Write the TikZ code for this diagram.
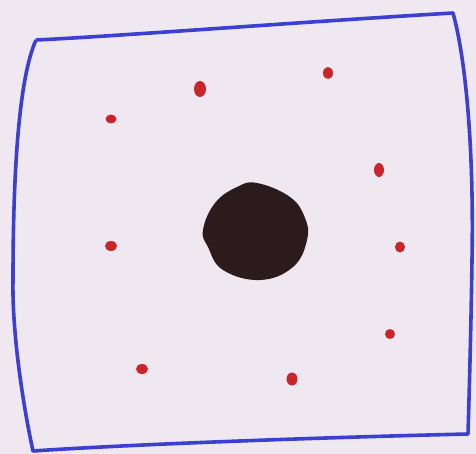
\documentclass[tikz,border=0pt]{standalone}
\usepackage{tikz}

\definecolor{paper}{HTML}{EFE8F0}
\definecolor{penblue}{HTML}{3B3FD2}
\definecolor{penred}{HTML}{C9262C}
\definecolor{blob}{HTML}{2B1B1D}

\begin{document}
\begin{tikzpicture}[x=1pt, y=-1pt]
	\fill [paper] (0, 0) rectangle (476, 454);
	\useasboundingbox (0, 0) rectangle (476, 454);
	% frame
	\draw [penblue, line width=3.6pt, line join=round]
		(36, 40) .. controls (120, 36) and (300, 22) .. (453, 13)
		.. controls (466, 60) and (474, 150) .. (472, 260)
		.. controls (471, 330) and (469, 400) .. (468, 434)
		.. controls (300, 438) and (120, 445) .. (33, 451)
		.. controls (22, 400) and (12, 330) .. (13, 280)
		.. controls (13, 180) and (18, 80) .. (36, 40);
	% mass
	\fill [blob] plot [smooth cycle, tension=0.7] coordinates {
		(257, 183) (290, 197) (305, 218) (307, 240) (293, 267)
		(260, 280) (223, 270) (208, 247) (203, 230) (215, 203) (237, 187)};
	% points
	\fill [penred] (200, 89) ellipse (6 and 8);
	\fill [penred] (328, 73) ellipse (5 and 6);
	\fill [penred] (111, 119) ellipse (5.5 and 4.5);
	\fill [penred] (379, 170) ellipse (5 and 7);
	\fill [penred] (111, 246) ellipse (6 and 5);
	\fill [penred] (400, 247) ellipse (5 and 5.5);
	\fill [penred] (390, 334) ellipse (5 and 5);
	\fill [penred] (142, 369) ellipse (6 and 5);
	\fill [penred] (292, 379) ellipse (5.5 and 6.5);
\end{tikzpicture}
\end{document}
